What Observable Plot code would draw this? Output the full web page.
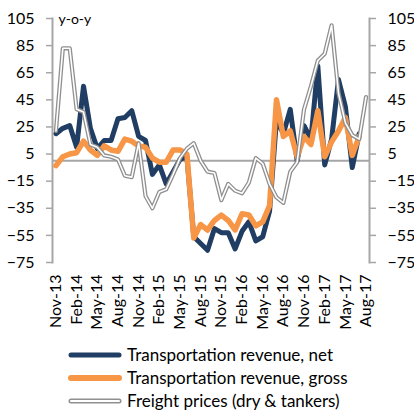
<!DOCTYPE html>
<html><head><meta charset="utf-8">
<script src="https://cdn.jsdelivr.net/npm/d3@7"></script>
<script src="https://cdn.jsdelivr.net/npm/@observablehq/plot@0.6"></script>
<style>
body{margin:0;background:#fff;font-family:Lato,"Open Sans",sans-serif;width:414px;height:410px;overflow:hidden;}
#legend{padding-top:3px;}
.row{display:flex;align-items:center;height:23px;}
.row svg{margin-left:68px;margin-right:5px;}
.row span{font-size:17px;color:#000;white-space:nowrap;}
</style></head><body><div id="chart"></div><div id="legend"></div>
<script>
const months = ["Nov-13","Dec-13","Jan-14","Feb-14","Mar-14","Apr-14","May-14","Jun-14","Jul-14","Aug-14","Sep-14","Oct-14",
"Nov-14","Dec-14","Jan-15","Feb-15","Mar-15","Apr-15","May-15","Jun-15","Jul-15","Aug-15","Sep-15","Oct-15",
"Nov-15","Dec-15","Jan-16","Feb-16","Mar-16","Apr-16","May-16","Jun-16","Jul-16","Aug-16","Sep-16","Oct-16",
"Nov-16","Dec-16","Jan-17","Feb-17","Mar-17","Apr-17","May-17","Jun-17","Jul-17","Aug-17"];
const netRevenue = [20,24,26,10,55,24,9,15,15,31, 32,37,18,15,-10,-3,-17,-8,1,3,
  -56,-61,-66,-50,-53,-53,-65,-52,-45,-59, -56,-37,30,20,38,0,26,16,70,-3, 16,60,40,-5,20,null];
const grossRevenue = [-3.5,3,5,6,14.5,8,4,11,8,7, 16,14.5,11,10,2,-1,-1,8,8,5,
  -57,-47,-51,-44,-40,-44,-51,-39,-40,-48, -45,-33,45,18,22,3,18,12,37,3, 14,22,32,4,18,null];
const freightPrices = [22,83,83,38,36,12,10,4,3,1, -11,-12,13,-26,-35,-23,-21,-10,2,9,
  13,0,-8,-9,-29,-17,-22,-24,-16,2, -2,-17,-27,-31,-8,-1,38,55,74,79, 100,50,28,19,16,47];
const yTicks = [-75,-55,-35,-15,5,25,45,65,85,105];
const xTickLabels = months.filter((d, i) => i % 3 === 0);
const seriesNames = ["Transportation revenue, net","Transportation revenue, gross","Freight prices (dry & tankers)"];
const navy = "#203d63", orange = "#f79646", grey = "#8f8f8f", axisGrey = "#a6a6a6";

const rows = vals => months.map((m, i) => ({month: m, value: vals[i]}));
const netData = rows(netRevenue), grossData = rows(grossRevenue), freightData = rows(freightPrices);

const chart = Plot.plot({
  width: 414, height: 340,
  marginLeft: 52, marginRight: 45, marginTop: 18, marginBottom: 78,
  style: {fontFamily: "Lato, 'Open Sans', sans-serif", fontSize: "16px", color: "#000", background: "#fff"},
  x: {type: "point", domain: months, padding: 0.5},
  y: {domain: [-75, 105]},
  marks: [
    Plot.ruleY([0], {stroke: axisGrey, strokeWidth: 2}),
    Plot.frame({anchor: "left", stroke: axisGrey, strokeWidth: 2}),
    Plot.frame({anchor: "right", stroke: axisGrey, strokeWidth: 2}),
    Plot.axisY({anchor: "left", ticks: yTicks, tickSize: 6, tickPadding: 12, stroke: axisGrey, strokeWidth: 1.5, fill: "#000", label: null}),
    Plot.axisY({anchor: "right", ticks: yTicks, tickSize: 6, tickPadding: 12, stroke: axisGrey, strokeWidth: 1.5, fill: "#000", label: null}),
    Plot.axisX({anchor: "bottom", ticks: xTickLabels, tickRotate: -90, tickSize: 0, tickPadding: 12, fill: "#000", label: null}),
    Plot.lineY(netData, {x: "month", y: "value", stroke: navy, strokeWidth: 5, strokeLinejoin: "round", strokeLinecap: "round"}),
    Plot.lineY(grossData, {x: "month", y: "value", stroke: orange, strokeWidth: 5.5, strokeLinejoin: "round", strokeLinecap: "round"}),
    Plot.lineY(freightData, {x: "month", y: "value", stroke: grey, strokeWidth: 4.2, strokeLinejoin: "round"}),
    Plot.lineY(freightData, {x: "month", y: "value", stroke: "#fff", strokeWidth: 1.6, strokeLinejoin: "round"}),
    Plot.text(["y-o-y"], {frameAnchor: "top-left", dx: 6, dy: 1, lineAnchor: "middle", textAnchor: "start", fontSize: 14, fill: "#000"})
  ]
});
document.getElementById("chart").appendChild(chart);

const legend = document.getElementById("legend");
const swatches = [
  `<line x1="3" y1="6" x2="51" y2="6" stroke="${navy}" stroke-width="5" stroke-linecap="round"/>`,
  `<line x1="3" y1="6" x2="51" y2="6" stroke="${orange}" stroke-width="6" stroke-linecap="round"/>`,
  `<line x1="3" y1="6" x2="51" y2="6" stroke="${grey}" stroke-width="5" stroke-linecap="round"/><line x1="3" y1="6" x2="51" y2="6" stroke="#fff" stroke-width="2" stroke-linecap="round"/>`
];
seriesNames.forEach((name, i) => {
  const row = document.createElement("div");
  row.className = "row";
  row.innerHTML = `<svg width="54" height="12">${swatches[i]}</svg><span></span>`;
  row.querySelector("span").textContent = name;
  legend.appendChild(row);
});
</script></body></html>
